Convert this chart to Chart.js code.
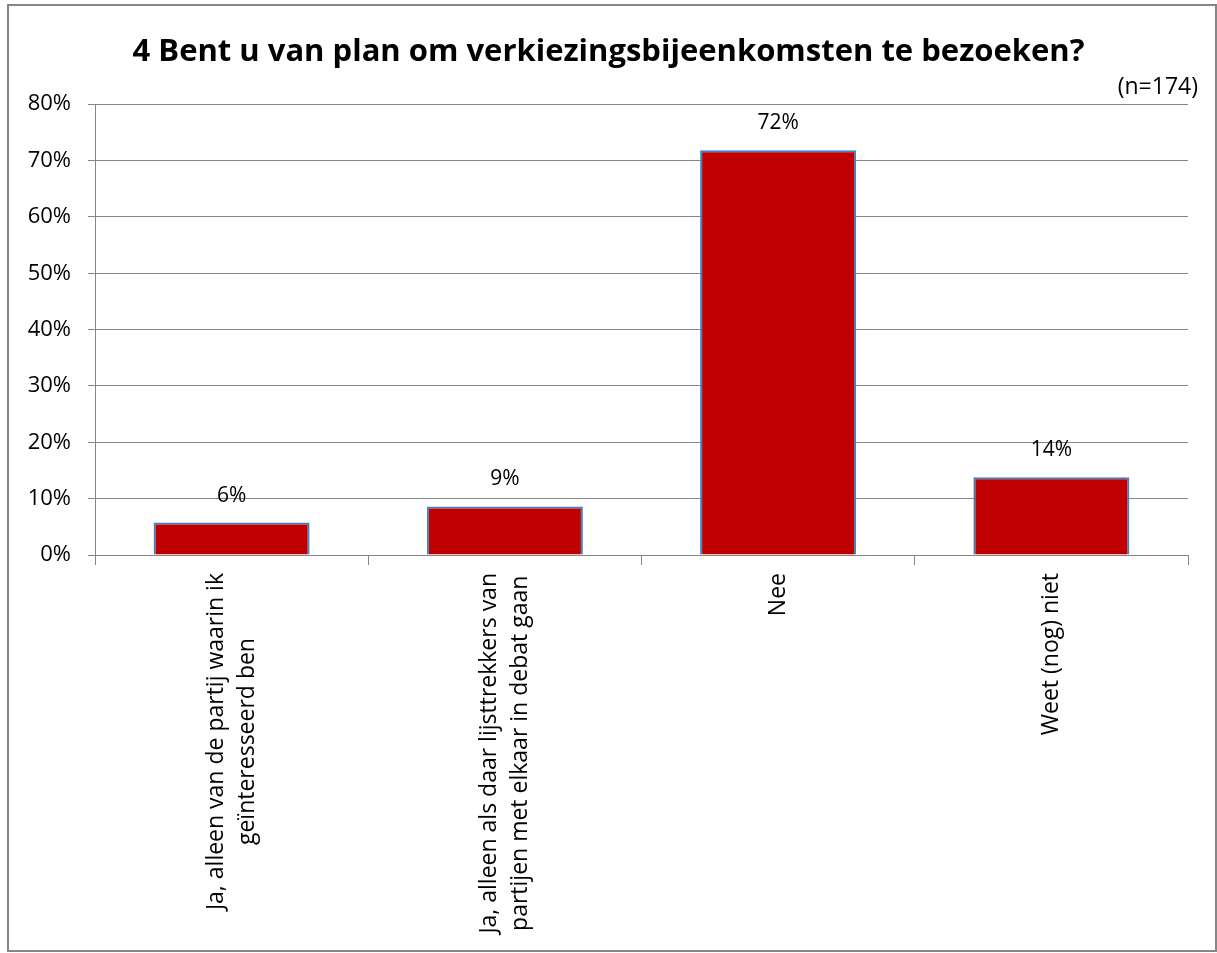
<!DOCTYPE html>
<html>
<head>
<meta charset="utf-8">
<script src="https://cdn.jsdelivr.net/npm/chart.js@4/dist/chart.umd.min.js"></script>
<style>
  body { margin: 0; background: #fff; }
  #wrap { position: relative; width: 1217px; height: 953px; }
</style>
</head>
<body>
<div id="wrap"><canvas id="chart"></canvas></div>
<script>
// survey answers (n=174), shares in percent
const categories = [
    ['Ja, alleen van de partij waarin ik', 'geïnteresseerd ben'],
    ['Ja, alleen als daar lijsttrekkers van', 'partijen met elkaar in debat gaan'],
    ['Nee'],
    ['Weet (nog) niet']
];
const shares = [5.75, 8.62, 71.84, 13.79];
const shareLabels = ['6%', '9%', '72%', '14%'];
const yTicks = [0, 10, 20, 30, 40, 50, 60, 70, 80];
const chartTitle = '4 Bent u van plan om verkiezingsbijeenkomsten te bezoeken?';
const sampleNote = '(n=174)';

const FONT = '"Open Sans", sans-serif';
const GRID = '#868686';

// frame, value labels, rotated category labels and the n= note
const extras = {
    id: 'extras',
    beforeDraw(chart) {
        const ctx = chart.ctx;
        ctx.save();
        ctx.fillStyle = '#fff';
        ctx.fillRect(0, 0, chart.width, chart.height);
        ctx.strokeStyle = GRID;
        ctx.lineWidth = 2;
        ctx.strokeRect(8, 5, 1208, 946);
        ctx.restore();
    },
    afterDraw(chart) {
        const ctx = chart.ctx;
        const xs = chart.scales.x;
        const meta = chart.getDatasetMeta(0);
        ctx.save();
        ctx.fillStyle = '#000';

        // values over the bars
        ctx.font = '21px ' + FONT;
        ctx.textAlign = 'center';
        ctx.textBaseline = 'middle';
        meta.data.forEach((bar, i) => {
            ctx.fillText(shareLabels[i], bar.x, bar.y - 27);
        });

        // category labels, turned 90 degrees, lines centred in the block
        ctx.font = '23px ' + FONT;
        const top = chart.chartArea.bottom + 18;
        const lineH = 31;
        categories.forEach((lines, i) => {
            const cx = xs.getPixelForValue(i);
            const maxW = Math.max(...lines.map(l => ctx.measureText(l).width));
            ctx.save();
            ctx.translate(cx, top);
            ctx.rotate(-Math.PI / 2);
            ctx.textAlign = 'center';
            ctx.textBaseline = 'middle';
            const first = -(lines.length - 1) * lineH / 2;
            lines.forEach((l, j) => {
                ctx.fillText(l, -maxW / 2, first + j * lineH);
            });
            ctx.restore();
        });

        // sample size, top right
        ctx.font = '23px ' + FONT;
        ctx.textAlign = 'right';
        ctx.textBaseline = 'middle';
        ctx.fillText(sampleNote, 1198, 87);
        ctx.restore();
    }
};

const ctx = document.getElementById('chart').getContext('2d');
new Chart(ctx, {
    type: 'bar',
    data: {
        labels: categories,
        datasets: [{
            data: shares,
            backgroundColor: '#C00000',
            borderColor: '#3A85C8',
            borderWidth: 2,
            barPercentage: 0.571,
            categoryPercentage: 1
        }]
    },
    options: {
        responsive: true,
        maintainAspectRatio: false,
        animation: false,
        layout: { padding: 0 },
        scales: {
            x: {
                offset: true,
                grid: {
                    offset: true,
                    drawOnChartArea: false,
                    color: GRID,
                    tickLength: 10
                },
                border: { color: GRID },
                ticks: { display: false },
                afterFit(scale) { scale.height = 398; }
            },
            y: {
                min: 0,
                max: 80,
                afterBuildTicks(scale) { scale.ticks = yTicks.map(v => ({ value: v })); },
                grid: { color: GRID, tickLength: 7 },
                border: { color: GRID },
                ticks: {
                    padding: 17,
                    color: '#000',
                    font: { family: FONT, size: 22 },
                    callback: v => v + '%'
                },
                afterFit(scale) { scale.width = 95; }
            },
            // empty right-hand strip so the title centres on the whole frame
            yRight: {
                position: 'right',
                min: 0,
                max: 80,
                grid: { display: false },
                border: { display: false },
                ticks: { display: false },
                afterFit(scale) { scale.width = 29; }
            }
        },
        plugins: {
            legend: { display: false },
            tooltip: { enabled: false },
            title: {
                display: true,
                text: chartTitle,
                color: '#000',
                font: { family: FONT, size: 31, weight: 'bold' },
                padding: { top: 34, bottom: 33 }
            }
        }
    },
    plugins: [extras]
});
</script>
</body>
</html>
